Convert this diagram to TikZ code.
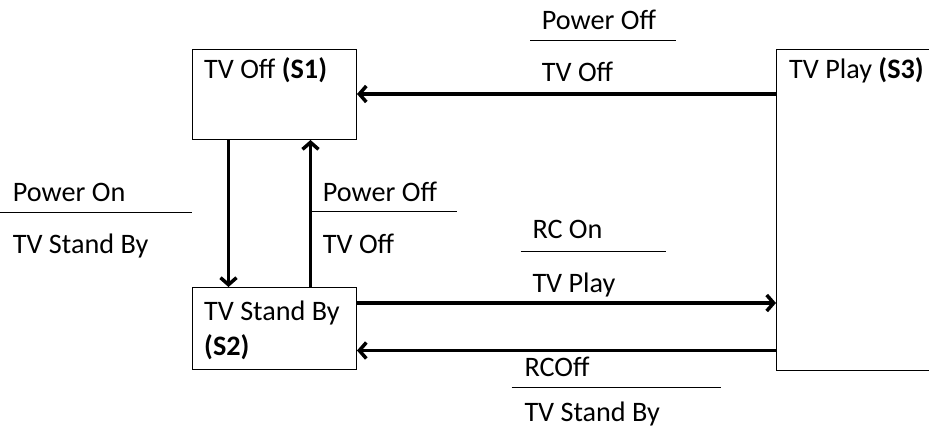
\documentclass[tikz,border=0pt]{standalone}
\usepackage{fontspec}
\setmainfont{Carlito}
\usetikzlibrary{arrows.meta}
\tikzset{
  flowarrow/.style={-{Straight Barb[length=7pt,width=16pt]}, line width=3.5pt},
  statebox/.style={draw, line width=1pt, anchor=north west, inner sep=0pt},
  statetext/.style={anchor=base west, inner sep=0pt},
  translabel/.style={anchor=base west, inner sep=0pt},
  labelrule/.style={line width=0.9pt}
}
\begin{document}
\begin{tikzpicture}[x=1pt, y=-1pt, every node/.style={font=\fontsize{28.2}{34}\selectfont}]
  \useasboundingbox (0,0) rectangle (929,434);
  % states
  \node[statebox, minimum width=164.5pt, minimum height=90.5pt] (s1) at (191.5,48.5) {};
  \node[statebox, minimum width=164.5pt, minimum height=81.5pt] (s2) at (191.5,287) {};
  \node[statebox, minimum width=200pt, minimum height=321pt] (s3) at (776,48.5) {};
  \node[statetext] (s1txt) at (204,78) {TV Off \textbf{(S1)}};
  \node[statetext] (s2txt) at (204,320) {TV Stand By};
  \node[statetext] (s2id) at (204,355) {\textbf{(S2)}};
  \node[statetext] (s3txt) at (789,78) {TV Play \textbf{(S3)}};
  % transitions
  \draw[flowarrow] (s3.west |- 0,94) -- (s1.east |- 0,94);
  \draw[flowarrow] (s1.south -| 228.5,0) -- (s2.north -| 228.5,0);
  \draw[flowarrow] (s2.north -| 310.5,0) -- (s1.south -| 310.5,0);
  \draw[flowarrow] (s2.east |- 0,303) -- (s3.west |- 0,303);
  \draw[flowarrow] (s3.west |- 0,350.5) -- (s2.east |- 0,350.5);
  % transition labels
  \node[translabel] (offin) at (541.7,29.3) {Power Off};
  \node[translabel] (offout) at (541.7,81.7) {TV Off};
  \draw[labelrule] (530,40) -- (675.7,40);
  \node[translabel] (onin) at (12.7,201.7) {Power On};
  \node[translabel] (onout) at (12.7,253) {TV Stand By};
  \draw[labelrule] (0,212.3) -- (191.7,212.3);
  \node[translabel] (sboffin) at (322.7,201.7) {Power Off};
  \node[translabel] (sboffout) at (322.7,253) {TV Off};
  \draw[labelrule] (310.7,211.7) -- (456.7,211.7);
  \node[translabel] (rconin) at (532.3,238.3) {RC On};
  \node[translabel] (rconout) at (532.3,292.7) {TV Play};
  \draw[labelrule] (520.7,251.7) -- (665.7,251.7);
  \node[translabel] (rcoffin) at (524.3,376) {RCOff};
  \node[translabel] (rcoffout) at (524.3,421) {TV Stand By};
  \draw[labelrule] (511.7,387.3) -- (720.7,387.3);
\end{tikzpicture}
\end{document}
